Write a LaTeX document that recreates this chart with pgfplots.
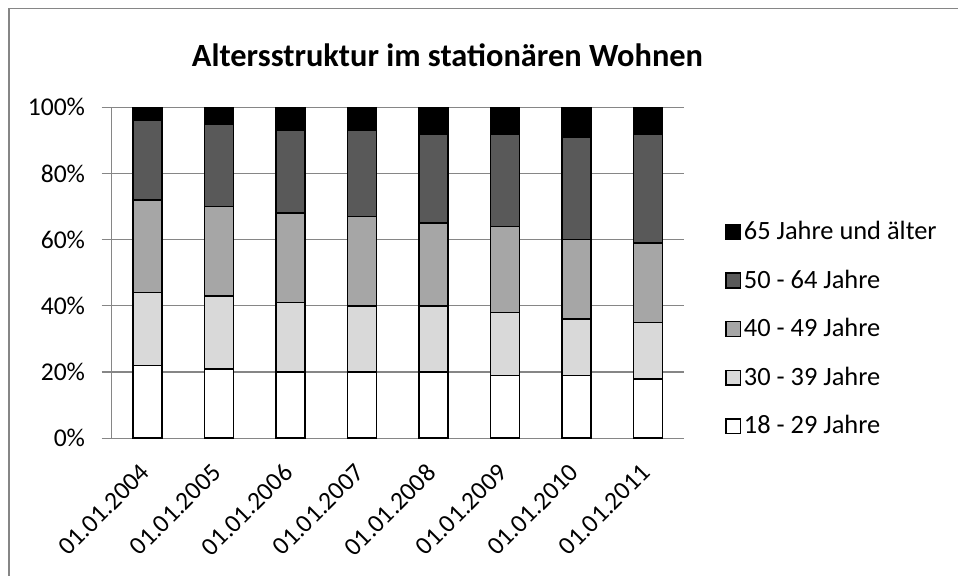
\documentclass[border=0pt]{standalone}
\usepackage{fontspec}
\setmainfont{Carlito}
\usepackage{pgfplots}
\pgfplotsset{compat=1.18}
\definecolor{gridgray}{HTML}{868686}
\definecolor{cA}{HTML}{FFFFFF}
\definecolor{cB}{HTML}{D9D9D9}
\definecolor{cC}{HTML}{A6A6A6}
\definecolor{cD}{HTML}{595959}
\definecolor{cE}{HTML}{000000}
\begin{document}
\begin{tikzpicture}
\useasboundingbox (0,0) rectangle (479pt,288pt);
\begin{scope}
\clip (0,0) rectangle (479pt,288pt);
\draw[gridgray, line width=0.8pt] (4.5pt,-20pt) rectangle (500pt,283.7pt);
\end{scope}
\node[font=\fontsize{16.2}{19}\selectfont\bfseries] at (223.75pt,260.5pt) {Altersstruktur im stationären Wohnen};
\begin{axis}[
  at={(55.85pt,68.85pt)}, anchor=south west,
  scale only axis, width=286pt, height=165.5pt,
  ybar stacked, bar width=14.5pt,
  xmin=-0.5, xmax=7.5, ymin=0, ymax=100,
  xtick={0,...,7},
  xticklabels={01.01.2004,01.01.2005,01.01.2006,01.01.2007,01.01.2008,01.01.2009,01.01.2010,01.01.2011},
  minor xtick={-0.5,0.5,...,7.5},
  xtick style={draw=none},
  minor x tick style={gridgray, line width=0.6pt},
  minor tick length=4pt,
  ytick={0,20,40,60,80,100},
  yticklabels={0\%,20\%,40\%,60\%,80\%,100\%},
  major tick length=5pt,
  ytick style={gridgray, line width=0.6pt},
  tick align=outside,
  ymajorgrids, grid style={gridgray, line width=0.6pt},
  axis x line*=bottom, axis y line*=left,
  axis line style={gridgray, line width=0.6pt, -},
  ticklabel style={font=\fontsize{12.8}{15}\selectfont},
  xticklabel style={xshift=-1pt, yshift=-10pt, rotate=45, anchor=east, inner sep=0pt},
  yticklabel style={xshift=-4.8pt},
  /pgf/number format/assume math mode=true,
  reverse legend,
  legend style={draw=none, fill=none, at={(1.0615,0.33)}, anchor=west,
    font=\fontsize{13.2}{15}\selectfont, row sep=11.25pt, legend cell align=left,
    nodes={inner sep=1.2pt}},
  legend image code/.code={\draw[#1, draw=black, line width=0.7pt] (0pt,-3.7pt) rectangle (7.4pt,3.7pt);},
  every axis plot/.append style={draw=black, line width=0.8pt},
]
\addplot[fill=cA] coordinates {(0,22) (1,21) (2,20) (3,20) (4,20) (5,19) (6,19) (7,18)};
\addplot[fill=cB] coordinates {(0,22) (1,22) (2,21) (3,20) (4,20) (5,19) (6,17) (7,17)};
\addplot[fill=cC] coordinates {(0,28) (1,27) (2,27) (3,27) (4,25) (5,26) (6,24) (7,24)};
\addplot[fill=cD] coordinates {(0,24) (1,25) (2,25) (3,26) (4,27) (5,28) (6,31) (7,33)};
\addplot[fill=cE] coordinates {(0,4) (1,5) (2,7) (3,7) (4,8) (5,8) (6,9) (7,8)};
\legend{18 - 29 Jahre,30 - 39 Jahre,40 - 49 Jahre,50 - 64 Jahre,65 Jahre und älter}
\end{axis}
\end{tikzpicture}
\end{document}
